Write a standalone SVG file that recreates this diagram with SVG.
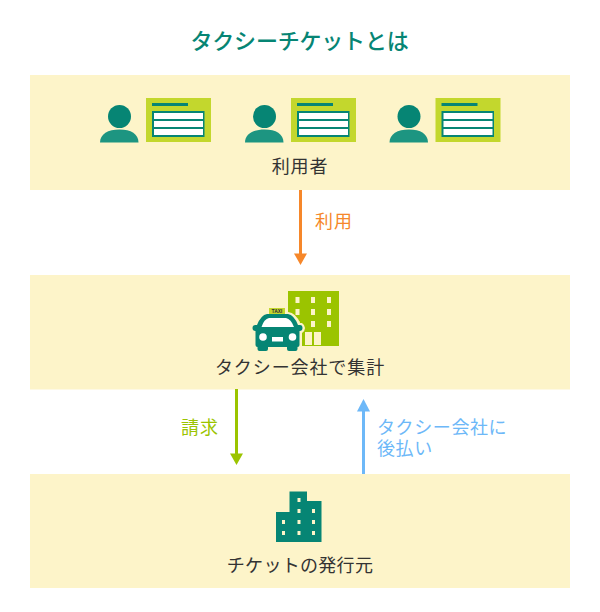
<svg xmlns="http://www.w3.org/2000/svg" xmlns:xlink="http://www.w3.org/1999/xlink" width="600" height="612" viewBox="0 0 600 612">
<style>
text{font-family:"Noto Sans CJK JP","Noto Sans",sans-serif;font-size:18px;letter-spacing:.9px;text-anchor:middle}
.title{font-size:22px;font-weight:500;letter-spacing:-.2px}
.taxi{font-size:5px;font-weight:700;letter-spacing:0}
.band{fill:#fdf4c9}
.dark{fill:#333}
.teal{fill:#068574}
.tealb{fill:#1d9581}
.lime{fill:#c3d72d}
.win{fill:#fdf4c9}
</style>
<defs>
<g id="user">
<circle cx="119.500" cy="116.500" r="11.500" class="teal"/>
<path d="M100 142.500C100 134 108 129.500 119.500 129.500S138.500 134 138.500 142.500Z" class="tealb"/>
<rect x="146" y="98" width="65" height="44" class="lime"/>
<rect x="152" y="103" width="36" height="3" class="teal"/>
<rect x="152" y="111" width="52.500" height="26" class="teal"/>
<rect x="154" y="113" width="49" height="6" fill="#fff"/>
<rect x="154" y="121" width="49" height="6" fill="#fff"/>
<rect x="154" y="129" width="49" height="6" fill="#fff"/>
</g>
</defs>
<rect width="600" height="612" fill="#fff"/>
<text class="title" x="299.500" y="49" fill="#068574">タクシーチケットとは</text>
<g id="users">
<rect class="band" x="30" y="75" width="540" height="115"/>
<use xlink:href="#user"/>
<use xlink:href="#user" x="145"/>
<use xlink:href="#user" x="289.500"/>
<text class="dark" x="300" y="173">利用者</text>
</g>
<g id="taxi-company">
<rect class="band" x="30" y="275" width="540" height="114.500"/>
<rect x="288" y="291" width="51" height="55" fill="#9bc400"/>
<g class="win">
<rect x="295.500" y="297" width="4" height="6"/><rect x="311" y="297" width="4" height="6"/><rect x="327" y="297" width="4" height="6"/>
<rect x="295.500" y="309" width="4" height="6"/><rect x="311" y="309" width="4" height="6"/><rect x="327" y="309" width="4" height="6"/>
<rect x="295.500" y="321" width="4" height="6"/><rect x="311" y="321" width="4" height="6"/><rect x="327" y="321" width="4" height="6"/>
<rect x="305" y="332" width="7" height="13"/><rect x="314" y="332" width="7" height="13"/>
</g>
<path d="M268 312H288Q296 313 300 323H302Q305 325 305 328T302 333V352H253V333Q250 331 250 328T253 323H256Q260 313 268 312Z" fill="#fdf4c9"/>
<rect x="269" y="308" width="16" height="6" fill="#c3d72d"/>
<text class="taxi" x="277" y="313" fill="#333">TAXI</text>
<path d="M267 314H288Q294 315 298 325H300Q302.500 325 302.500 328T299.500 331V345Q299.500 347 297.500 347V349Q297.500 351 295.500 351H289Q287 351 287 349V347H268V349Q268 351 266 351H259.500Q257.500 351 257.500 349V347Q255.500 347 255.500 345V331Q252.500 331 252.500 328T255.500 325H257Q261 315 267 314Z" class="teal"/>
<path d="M269 318H286Q291 319 294 327H261.500Q264 319 269 318Z" fill="#fff"/>
<circle cx="263" cy="337" r="3.800" fill="#fff"/>
<circle cx="292.500" cy="337" r="3.800" fill="#fff"/>
<rect x="272" y="337" width="11" height="4.500" fill="#fff"/>
<text class="dark" x="300" y="374">タクシー会社で集計</text>
</g>
<g id="ticket-issuer">
<rect class="band" x="30" y="474" width="540" height="114"/>
<path d="M276 542V512H289.500V491.500H307V501H321.500V542Z" class="teal"/>
<g class="win">
<rect x="297.500" y="498" width="3" height="4"/>
<rect x="297.500" y="509" width="3" height="4"/><rect x="312" y="509" width="3" height="4"/>
<rect x="282" y="520" width="3" height="4"/><rect x="297.500" y="520" width="3" height="4"/><rect x="312" y="520" width="3" height="4"/>
<rect x="282" y="531" width="3" height="4"/><rect x="297.500" y="531" width="3" height="4"/><rect x="312" y="531" width="3" height="4"/>
</g>
<text class="dark" x="300" y="572" style="letter-spacing:.3px">チケットの発行元</text>
</g>
<g id="connectors">
<path d="M300.500 190V255" stroke="#f6872a" stroke-width="3" fill="none"/>
<path d="M294 253.500H307L300.500 265Z" fill="#f6872a"/>
<path d="M236.500 389V455" stroke="#9bc400" stroke-width="3" fill="none"/>
<path d="M230 453.500H243L236.500 465Z" fill="#9bc400"/>
<path d="M363.500 474V410" stroke="#6db8f8" stroke-width="3" fill="none"/>
<path d="M357 411.500H370L363.500 399Z" fill="#6db8f8"/>
</g>
<g id="labels">
<text x="334" y="228" fill="#f6872a">利用</text>
<text x="200" y="434" fill="#9bc400">請求</text>
<text fill="#6db8f8" style="text-anchor:start;letter-spacing:.6px"><tspan x="377" y="434">タクシー会社に</tspan><tspan x="377" y="455">後払い</tspan></text>
</g>
</svg>
